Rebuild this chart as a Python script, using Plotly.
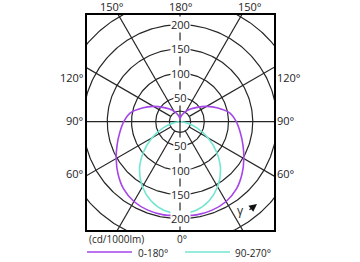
import numpy as np
import plotly.graph_objects as go

# ---- data (cd/1000lm) ----
gamma_purple = [0, 10, 20, 30, 40, 50, 60, 70, 80, 90, 100, 110, 120, 130, 140, 150, 160, 170, 180]
i_0_180 = [193, 195, 194, 190, 181, 167, 152, 138, 126, 116, 104, 83, 63, 46, 34, 25, 17, 11, 6]
gamma_cyan = [0, 10, 20, 30, 40, 50, 60, 70, 80, 90]
i_90_270 = [190, 186, 174, 155, 130, 99, 67, 37, 14, 2]

ring_values = [50, 100, 150, 200, 250]
ring_labels = ["50", "100", "150", "200"]
spoke_angles = [30, 60, 120, 150]
series_names = ["0-180°", "90-270°"]
series_colors = ["#a645e8", "#72e6d2"]

GRID = "#262626"
FONT = dict(family="Open Sans", size=11, color="#1e1e1e")
FONT_S = dict(family="Open Sans", size=10, color="#1e1e1e")

fig = go.Figure()

def gline(x, y, w=1.2):
    fig.add_trace(go.Scatter(x=x, y=y, mode="lines", hoverinfo="skip", showlegend=False,
                             line=dict(color=GRID, width=w)))

t = np.linspace(0, 2 * np.pi, 361)
for r in [22] + ring_values:
    gline(r * np.sin(t), r * np.cos(t))
for a in spoke_angles:
    ar = np.radians(a)
    for s in (-1, 1):
        gline([s * 22 * np.sin(ar), s * 330 * np.sin(ar)], [-22 * np.cos(ar), -330 * np.cos(ar)])
gline([-300, 300], [0, 0])
gline([0, 0], [-300, 300])

def curve(g, v):
    g = np.radians(np.array(g, dtype=float))
    v = np.array(v, dtype=float)
    gf = np.concatenate([-g[::-1], g[1:]])
    vf = np.concatenate([v[::-1], v[1:]])
    return vf * np.sin(gf), -vf * np.cos(gf)

for (g, v), name, col in zip([(gamma_cyan, i_90_270), (gamma_purple, i_0_180)],
                             series_names[::-1], series_colors[::-1]):
    x, y = curve(g, v)
    fig.add_trace(go.Scatter(x=x, y=y, mode="lines", name=name, showlegend=False,
                             line=dict(color=col, width=1.6, shape="spline", smoothing=1)))

ann = []
for r, lab in zip(ring_values, ring_labels):
    for s in (1, -1):
        ann.append(dict(x=0, y=s * r, xref="x", yref="y", text=lab, showarrow=False,
                        bgcolor="white", borderpad=0, font=FONT))

def P(px, py, text, xa="center", ya="middle", font=FONT):
    ann.append(dict(x=px / 360, y=1 - py / 262, xref="paper", yref="paper", text=text,
                    showarrow=False, xanchor=xa, yanchor=ya, font=font))

P(112, 6, "150°"); P(181, 6, "180°"); P(250, 6, "150°")
for py, lab in [(77, "120°"), (120, "90°"), (173, "60°")]:
    P(86, py, lab, xa="right")
    P(275, py, lab, xa="left")
P(87, 238.5, "(cd/1000lm)", xa="left", font=FONT_S)
P(182, 238.5, "0°", font=FONT_S)
P(136, 252.5, series_names[0], xa="left", font=FONT_S)
P(233, 252.5, series_names[1], xa="left", font=FONT_S)
P(241, 210, "γ", font=dict(family="Open Sans", size=12, color="#1e1e1e"))
ann.append(dict(x=257 / 360, y=1 - 204 / 262, ax=-9, ay=7,
                xref="paper", yref="paper", axref="pixel", ayref="pixel", text="",
                showarrow=True, arrowhead=2, arrowsize=1.3, arrowwidth=1.2, arrowcolor="#111"))

shapes = [
    dict(type="line", xref="paper", yref="paper", x0=87 / 360, x1=132 / 360,
         y0=1 - 252 / 262, y1=1 - 252 / 262, line=dict(color=series_colors[0], width=1.3)),
    dict(type="line", xref="paper", yref="paper", x0=185 / 360, x1=230 / 360,
         y0=1 - 252 / 262, y1=1 - 252 / 262, line=dict(color=series_colors[1], width=1.3)),
]

fig.update_layout(
    width=360, height=262, margin=dict(l=0, r=0, t=0, b=0),
    paper_bgcolor="white", plot_bgcolor="white", showlegend=False,
    annotations=ann, shapes=shapes,
    xaxis=dict(domain=[87 / 360, 274 / 360], range=[-191.8, 193.8], showgrid=False,
               zeroline=False, showticklabels=False, ticks="", showline=True, mirror=True,
               linecolor="black", linewidth=2),
    yaxis=dict(domain=[32 / 262, 247 / 262], range=[-223.3, 220], showgrid=False,
               zeroline=False, showticklabels=False, ticks="", showline=True, mirror=True,
               linecolor="black", linewidth=2),
)

fig.write_html("out.html")
